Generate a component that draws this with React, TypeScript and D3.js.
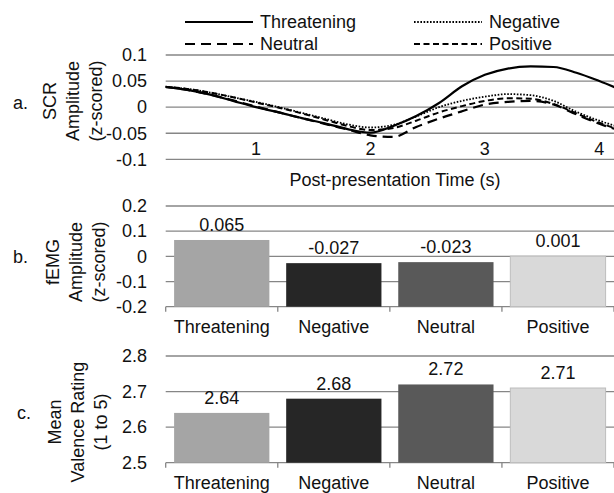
import * as d3 from "d3";

const times = [0.2, 0.4, 0.6, 0.8, 1.0, 1.2, 1.4, 1.6, 1.8, 2.0, 2.2, 2.4, 2.6, 2.8, 3.0, 3.2, 3.4, 3.6, 3.8, 4.0, 4.2];
const scrThreatening = [0.039, 0.033, 0.024, 0.012, 0.0, -0.01, -0.021, -0.031, -0.042, -0.049, -0.036, -0.017, 0.008, 0.04, 0.062, 0.074, 0.078, 0.077, 0.066, 0.05, 0.032];
const scrNegative = [0.039, 0.035, 0.028, 0.019, 0.01, 0.0, -0.011, -0.022, -0.033, -0.039, -0.034, -0.018, 0.0, 0.012, 0.02, 0.025, 0.023, 0.012, -0.009, -0.026, -0.04];
const scrNeutral = [0.039, 0.033, 0.024, 0.013, 0.001, -0.01, -0.021, -0.032, -0.043, -0.054, -0.057, -0.038, -0.022, -0.008, 0.005, 0.01, 0.012, 0.005, -0.014, -0.032, -0.046];
const scrPositive = [0.039, 0.035, 0.028, 0.019, 0.009, -0.001, -0.012, -0.024, -0.036, -0.044, -0.04, -0.026, -0.01, 0.002, 0.012, 0.017, 0.016, 0.006, -0.012, -0.03, -0.045];
const timeTicks = [1, 2, 3, 4];
const scrTicks = [0.1, 0.05, 0, -0.05, -0.1];

// panels b and c
const categories = ["Threatening", "Negative", "Neutral", "Positive"];
const emgValues = [0.065, -0.027, -0.023, 0.001];
const emgTicks = [0.2, 0.1, 0, -0.1, -0.2];
const valenceValues = [2.64, 2.68, 2.72, 2.71];
const valenceTicks = [2.8, 2.7, 2.6, 2.5];

const barColors = ["#a5a5a5", "#262626", "#595959", "#d9d9d9"];
const gridColor = "#868686";
const font = "'Liberation Sans', Arial, sans-serif";

const series = [
  { name: "Threatening", values: scrThreatening, dash: "none", width: 2.2, lx: 185, ly: 22 },
  { name: "Neutral", values: scrNeutral, dash: "10,6", width: 2.2, lx: 185, ly: 44 },
  { name: "Negative", values: scrNegative, dash: "1.6,1.6", width: 1.8, lx: 414, ly: 22 },
  { name: "Positive", values: scrPositive, dash: "6,3.5", width: 2, lx: 414, ly: 44 },
];

const plotLeft = 165.7;
const plotRight = 614;
const tickX = 147;

function YTitle({ x, y, lines }: { x: number; y: number; lines: string[] }) {
  return (
    <text transform={`translate(${x},${y}) rotate(-90)`} textAnchor="middle" fontSize={18}>
      {lines.map((l, i) => (
        <tspan key={l} x={0} y={i * 23} dy="0.35em">
          {l}
        </tspan>
      ))}
    </text>
  );
}

function BarPanel({
  values,
  ticks,
  domain,
  yRange,
  label,
  title,
  titleX,
  titleY,
}: {
  values: number[];
  ticks: number[];
  domain: [number, number];
  yRange: [number, number];
  label: { x: number; y: number; t: string };
  title: string[];
  titleX: number;
  titleY: number;
}) {
  const y = d3.scaleLinear().domain(domain).range(yRange);
  const x = d3.scaleBand().domain(categories).range([plotLeft, plotRight]).paddingInner(0.15).paddingOuter(0.075);
  const base = y(domain[0]);
  const step = x.step();
  return (
    <g>
      <text x={label.x} y={label.y} dy="0.35em" fontSize={18}>
        {label.t}
      </text>
      <YTitle x={titleX} y={titleY} lines={title} />
      {ticks.map((t) => (
        <g key={t}>
          <line x1={plotLeft} x2={plotRight} y1={y(t)} y2={y(t)} stroke={gridColor} strokeWidth={1.3} />
          <text x={tickX} y={y(t)} dy="0.35em" textAnchor="end" fontSize={18}>
            {String(t)}
          </text>
        </g>
      ))}
      {d3.range(categories.length + 1).map((i) => (
        <line key={i} x1={plotLeft + i * step} x2={plotLeft + i * step} y1={base} y2={base + 5} stroke={gridColor} strokeWidth={1.3} />
      ))}
      {categories.map((c, i) => (
        <g key={c}>
          <rect
            x={x(c)}
            y={y(values[i])}
            width={x.bandwidth()}
            height={base - y(values[i])}
            fill={barColors[i]}
            stroke={i === 3 ? "#bdbdbd" : "none"}
          />
          <text x={(x(c) as number) + x.bandwidth() / 2} y={y(values[i]) - 9} textAnchor="middle" fontSize={18}>
            {String(values[i])}
          </text>
          <text x={(x(c) as number) + x.bandwidth() / 2} y={base + 20} dy="0.35em" textAnchor="middle" fontSize={18}>
            {c}
          </text>
        </g>
      ))}
    </g>
  );
}

export default function App() {
  const xT = d3.scaleLinear().domain([1, 4]).range([256, 599.3]);
  const yA = d3.scaleLinear().domain([-0.1, 0.1]).range([159.3, 55]);
  const line = d3
    .line<number>()
    .x((_, i) => xT(times[i]))
    .y((d) => yA(d))
    .curve(d3.curveMonotoneX);

  return (
    <svg
      width={614}
      height={493}
      style={{ position: "absolute", left: 0, top: 0, background: "#fff" }}
      fontFamily={font}
      fill="#111"
    >
      <defs>
        <clipPath id="plotA">
          <rect x={plotLeft} y={40} width={plotRight - plotLeft} height={130} />
        </clipPath>
      </defs>

      {/* legend */}
      {series.map((s) => (
        <g key={s.name}>
          <line x1={s.lx} x2={s.lx + 68} y1={s.ly} y2={s.ly} stroke="#000" strokeWidth={s.width} strokeDasharray={s.dash} />
          <text x={s.lx + 75} y={s.ly} dy="0.35em" fontSize={18}>
            {s.name}
          </text>
        </g>
      ))}

      {/* panel a */}
      <text x={13} y={103} dy="0.35em" fontSize={18}>
        a.
      </text>
      <YTitle x={50} y={101} lines={["SCR", "Amplitude", "(z-scored)"]} />
      {scrTicks.map((t) => (
        <g key={t}>
          <line x1={plotLeft} x2={plotRight} y1={yA(t)} y2={yA(t)} stroke={gridColor} strokeWidth={1.3} />
          <text x={tickX} y={yA(t)} dy="0.35em" textAnchor="end" fontSize={18}>
            {String(t)}
          </text>
        </g>
      ))}
      {timeTicks.map((t) => (
        <text key={t} x={xT(t)} y={149} dy="0.35em" textAnchor="middle" fontSize={18}>
          {t}
        </text>
      ))}
      <text x={395} y={180} dy="0.35em" textAnchor="middle" fontSize={18}>
        Post-presentation Time (s)
      </text>
      <g clipPath="url(#plotA)">
        {series.map((s) => (
          <path
            key={s.name}
            d={line(s.values) ?? ""}
            fill="none"
            stroke="#000"
            strokeWidth={s.width}
            strokeDasharray={s.dash}
          />
        ))}
      </g>

      {/* panel b */}
      <BarPanel
        values={emgValues}
        ticks={emgTicks}
        domain={[-0.2, 0.2]}
        yRange={[306.7, 206]}
        label={{ x: 13, y: 257, t: "b." }}
        title={["fEMG", "Amplitude", "(z-scored)"]}
        titleX={53}
        titleY={262}
      />

      {/* panel c */}
      <BarPanel
        values={valenceValues}
        ticks={valenceTicks}
        domain={[2.5, 2.8]}
        yRange={[462.7, 356]}
        label={{ x: 17, y: 413, t: "c." }}
        title={["Mean", "Valence Rating", "(1 to 5)"]}
        titleX={55}
        titleY={422}
      />
    </svg>
  );
}
